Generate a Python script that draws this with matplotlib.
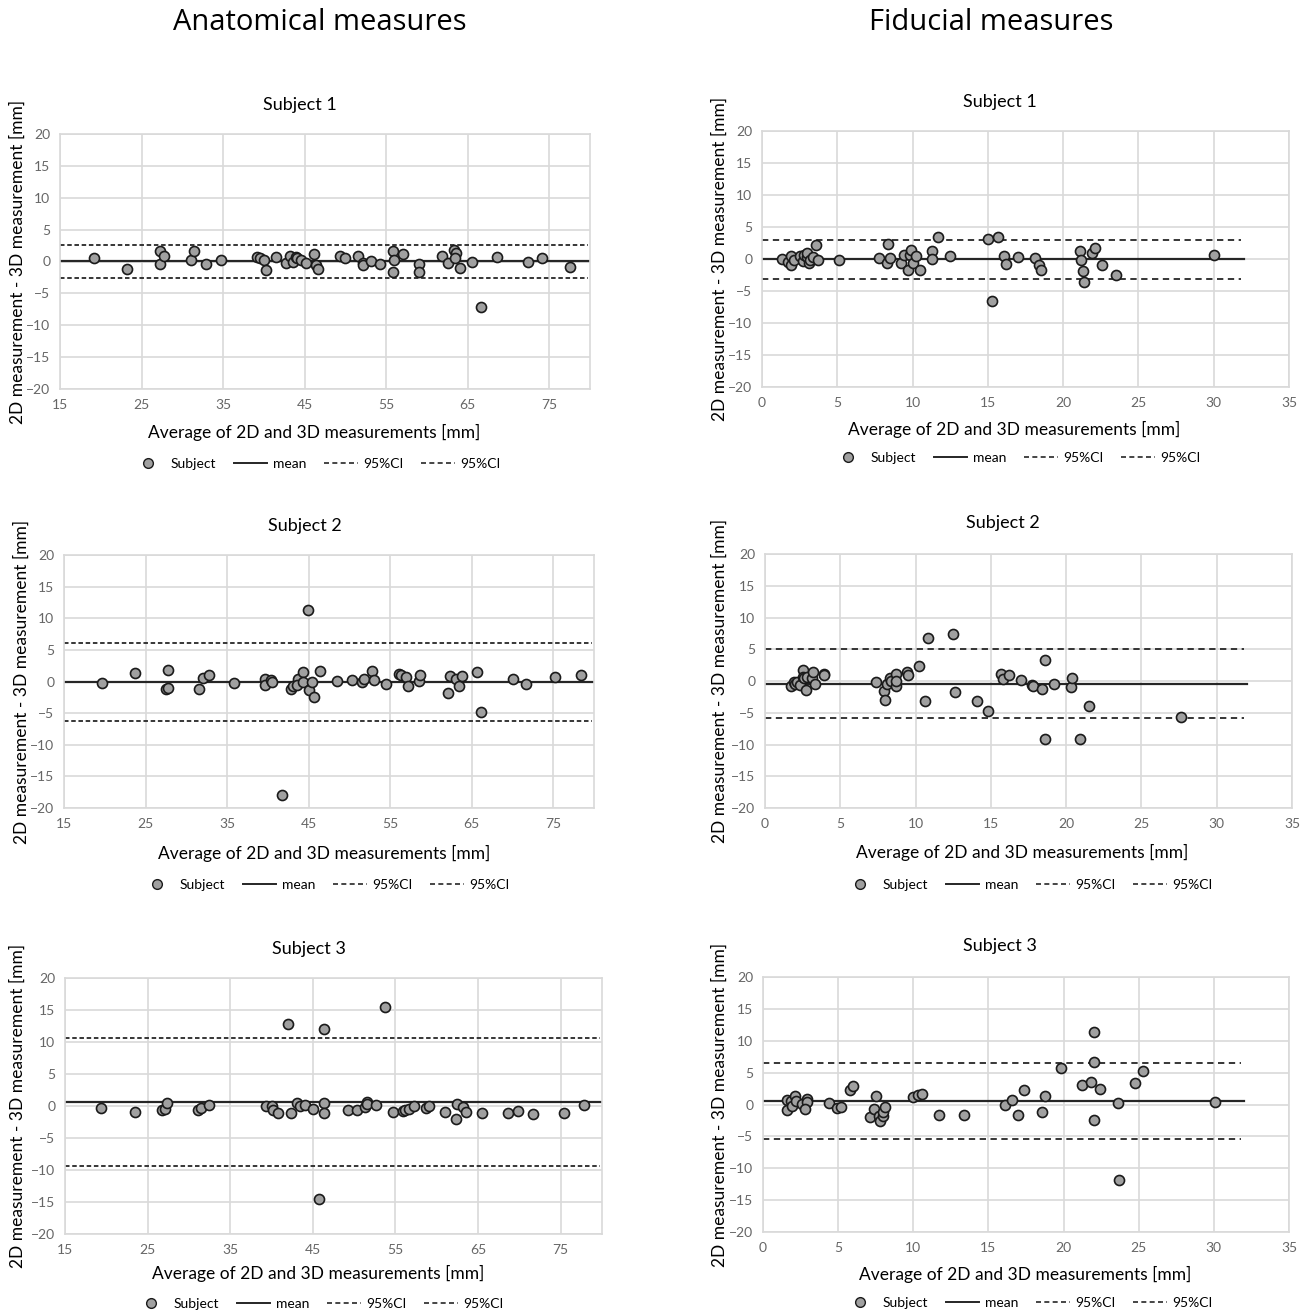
import numpy as np
import matplotlib
matplotlib.use('Agg')
import matplotlib.pyplot as plt
from matplotlib.lines import Line2D

plt.rcParams['font.family'] = ['Lato', 'DejaVu Sans']

# ---- Anatomical, subject 1
a1_x = [19.2, 23.2, 27.3, 27.3, 27.8, 31.1, 31.4, 32.9, 34.8, 39.2, 39.5, 40.0, 40.3, 41.5, 42.7,
        43.2, 43.6, 43.9, 44.1, 44.5, 45.2, 46.2, 46.4, 46.6, 49.4, 49.9, 51.6, 52.1, 52.2, 53.1,
        54.3, 55.9, 56.0, 55.9, 57.1, 59.0, 59.0, 61.8, 62.6, 63.3, 63.6, 63.5, 64.0, 65.5, 66.6,
        68.6, 72.4, 74.1, 77.6]
a1_y = [0.5, -1.15, 1.7, -0.4, 0.9, 0.2, 1.6, -0.4, 0.3, 0.7, 0.5, 0.3, -1.3, 0.7, -0.2,
        0.9, 0.0, 0.7, 0.5, 0.3, -0.3, 1.2, -0.5, -1.15, 0.9, 0.6, 0.9, -0.2, -0.5, 0.1,
        -0.4, 1.7, 0.3, -1.7, 1.2, -0.4, -1.7, 0.9, -0.2, 1.8, 1.4, 0.5, -0.95, -0.15, -7.2,
        0.7, -0.05, 0.5, -0.9]
a1_stats = (0.05, 2.65, -2.55)

# ---- Anatomical, subject 2
a2_x = [19.7, 23.7, 27.7, 27.5, 27.8, 31.6, 32.1, 32.8, 35.8, 39.6, 39.6, 40.4, 40.5, 42.8, 43.1,
        43.7, 43.6, 44.3, 44.3, 44.9, 45.1, 45.4, 45.7, 46.4, 41.7, 48.5, 50.3, 51.5, 51.8, 52.8,
        53.0, 54.5, 56.1, 56.3, 56.9, 57.2, 58.5, 58.7, 62.1, 62.3, 63.1, 63.4, 63.8, 65.6, 66.2,
        70.1, 71.6, 75.2, 78.4]
a2_y = [-0.25, 1.3, 1.8, -1.2, -0.95, -1.2, 0.6, 1.1, -0.25, 0.35, -0.55, 0.3, 0.0, -1.2, -0.7,
        0.4, -0.6, 1.5, -0.1, 11.3, -1.4, -0.1, -2.4, 1.6, -17.9, 0.1, 0.2, -0.15, 0.45, 1.7,
        0.3, -0.45, 1.2, 1.0, 0.75, -0.75, 0.15, 1.05, -1.75, 0.9, 0.45, -0.65, 0.85, 1.55, -4.9,
        0.45, -0.4, 0.65, 0.95]
a2_stats = (-0.05, 6.15, -6.2)

# ---- Anatomical, subject 3
a3_x = [19.3, 23.5, 26.7, 27.1, 27.4, 31.1, 31.5, 32.4, 39.3, 40.1, 40.2, 40.8, 42.3, 42.0, 43.1,
        43.5, 44.0, 45.0, 46.4, 46.3, 46.4, 45.8, 49.3, 50.4, 51.3, 51.6, 51.6, 52.6, 53.7, 54.7,
        55.9, 56.1, 56.6, 57.2, 58.7, 59.1, 61.0, 62.4, 62.3, 63.2, 63.5, 65.5, 68.6, 69.8, 71.7,
        75.4, 77.8]
a3_y = [-0.35, -0.9, -0.7, -0.45, 0.4, -0.65, -0.25, 0.1, 0.0, 0.0, -0.55, -1.1, -1.1, 12.8, 0.45,
        0.0, 0.1, -0.5, 0.4, -1.1, 12.1, -14.5, -0.65, -0.65, -0.1, 0.6, 0.3, 0.2, 15.5, -0.95,
        -0.8, -0.7, -0.5, 0.0, -0.25, 0.0, -0.95, 0.35, -2.05, -0.2, -1.0, -1.05, -1.05, -0.75, -1.3,
        -1.05, 0.1]
a3_stats = (0.55, 10.65, -9.4)

# ---- Fiducial, subject 1
f1_x = [1.3, 1.7, 1.9, 1.9, 2.1, 2.5, 2.7, 2.8, 3.0, 3.0, 3.1, 3.2, 3.4, 3.6, 3.7,
        5.1, 7.8, 8.3, 8.4, 8.5, 9.2, 9.4, 9.7, 9.8, 9.9, 10.0, 10.2, 10.5, 11.3, 11.3,
        11.7, 12.5, 15.0, 15.3, 15.7, 16.1, 16.2, 17.0, 18.1, 18.4, 18.5, 21.1, 21.2, 21.3, 21.4,
        21.9, 22.1, 22.6, 23.5, 30.0]
f1_y = [0.0, -0.4, 0.4, -1.0, -0.1, 0.5, -0.3, 0.6, 0.3, 0.9, -0.65, -0.1, 0.3, 2.2, -0.2,
        -0.1, 0.2, -0.7, 2.4, 0.2, -0.55, 0.55, -1.75, 0.55, 1.4, -0.65, 0.4, -1.75, 1.3, 0.0,
        3.5, 0.45, 3.05, -6.5, 3.5, 0.4, -0.85, 0.35, 0.1, -1.0, -1.75, 1.3, -0.1, -1.95, -3.6,
        1.0, 1.75, -0.95, -2.45, 0.55]
f1_stats = (-0.05, 3.0, -3.1)

# ---- Fiducial, subject 2
f2_x = [1.7, 1.9, 2.0, 2.1, 2.3, 2.5, 2.5, 2.6, 2.7, 2.8, 3.1, 3.2, 3.3, 3.9, 3.9,
        7.4, 7.9, 8.0, 8.1, 8.3, 8.4, 8.7, 8.7, 8.7, 9.4, 9.5, 10.2, 10.8, 10.6, 12.5,
        12.6, 14.1, 14.8, 15.7, 15.8, 16.2, 17.0, 17.7, 17.8, 18.6, 18.4, 18.6, 19.2, 20.3, 20.4,
        20.9, 21.5, 27.6]
f2_y = [-0.75, -0.1, -0.5, -0.1, -0.6, 1.75, 0.7, 0.55, -1.35, 0.6, 0.55, 1.45, -0.5, 1.1, 0.95,
        -0.1, -1.55, -3.05, -0.4, 0.45, 0.0, -0.75, 1.05, 0.0, 1.45, 1.0, 2.4, 6.8, -3.1, 7.4,
        -1.7, -3.1, -4.7, 1.05, 0.25, 0.95, 0.1, -0.65, -0.75, 3.25, -1.3, -9.2, -0.45, -1.0, 0.55,
        -9.1, -3.9, -5.7]
f2_stats = (-0.4, 5.0, -5.8)

# ---- Fiducial, subject 3
f3_x = [1.6, 1.6, 1.85, 1.95, 2.1, 2.2, 2.6, 2.9, 2.9, 2.8, 4.4, 4.9, 5.2, 5.8, 6.0,
        7.1, 7.4, 7.5, 7.7, 7.8, 7.97, 8.0, 8.1, 10.0, 10.3, 10.6, 11.7, 13.4, 16.1, 16.6,
        17.0, 17.4, 18.55, 18.75, 19.8, 21.2, 21.8, 22.0, 22.05, 22.05, 22.4, 23.6, 23.7, 24.75, 25.3,
        30.1]
f3_y = [0.7, -0.8, 0.5, -0.3, 1.4, 0.6, 0.1, 0.85, 0.35, -0.65, 0.25, -0.6, -0.45, 2.3, 2.95,
        -1.9, -0.75, 1.35, -1.75, -2.6, -1.85, -1.1, -0.4, 1.1, 1.5, 1.7, -1.6, -1.7, -0.1, 0.7,
        -1.7, 2.3, -1.1, 1.35, 5.75, 3.1, 3.5, 11.45, 6.7, -2.45, 2.4, 0.25, -11.9, 3.45, 5.2,
        0.35]
f3_stats = (0.6, 6.5, -5.35)

W, H = 1309, 1313
fig = plt.figure(figsize=(W / 100, H / 100), dpi=100)

def rect(l, r, t, b):
    return [l / W, 1 - b / H, (r - l) / W, (b - t) / H]

grid_c = '#d9d9d9'
tick_c = '#666666'

panels = [
    # x, y, stats, xlim, xticks, line end, axes px (l, r, t, b), title, title pos, xlabel pos, legend pos, ylabel x, dash
    (a1_x, a1_y, a1_stats, (15, 80), range(15, 80, 10), 80, (60, 590, 134, 389), 'Subject 1', (300, 105), (314, 432), (316, 464), 18, (0, (2.5, 1.5))),
    (a2_x, a2_y, a2_stats, (15, 80), range(15, 80, 10), 80, (64, 594, 555, 808), 'Subject 2', (305, 526), (324, 853), (325, 885), 22, (0, (2.5, 1.5))),
    (a3_x, a3_y, a3_stats, (15, 80), range(15, 80, 10), 80, (65, 602, 978, 1234), 'Subject 3', (309, 949), (318, 1273), (319, 1304), 18, (0, (2.5, 1.5))),
    (f1_x, f1_y, f1_stats, (0, 35), range(0, 36, 5), 32, (762, 1289, 131, 387), 'Subject 1', (1000, 102), (1014, 429), (1016, 458), 720, (0, (3.5, 2.5))),
    (f2_x, f2_y, f2_stats, (0, 35), range(0, 36, 5), 32, (765, 1292, 554, 808), 'Subject 2', (1003, 523), (1022, 852), (1028, 885), 720, (0, (3.5, 2.5))),
    (f3_x, f3_y, f3_stats, (0, 35), range(0, 36, 5), 32, (763, 1289, 977, 1232), 'Subject 3', (1000, 946), (1025, 1274), (1028, 1303), 720, (0, (3.5, 2.5))),
]

for (xs, ys, st, xlim, xt, xend, box, title, tpos, xlpos, lgpos, ylx, dash) in panels:
    l, r, t, b = box
    ax = fig.add_axes(rect(l, r, t, b))
    mean, hi, lo = st
    ax.plot([xlim[0], xend], [mean, mean], color='#262626', lw=1.6, zorder=2)
    ax.plot([xlim[0], xend - 0.2], [hi, hi], color='#262626', lw=1.3, ls=dash, zorder=2)
    ax.plot([xlim[0], xend - 0.2], [lo, lo], color='#262626', lw=1.3, ls=dash, zorder=2)
    ax.scatter(xs, ys, s=52, facecolor='#a0a0a0', edgecolor='#1a1a1a', linewidths=1.2, zorder=3)
    ax.set_xlim(*xlim)
    ax.set_ylim(-20, 20)
    ax.set_xticks(list(xt))
    ax.set_yticks(range(-20, 21, 5))
    ax.grid(True, color=grid_c, lw=1.2)
    ax.set_axisbelow(True)
    for s in ax.spines.values():
        s.set_color(grid_c)
        s.set_linewidth(1.2)
    ax.tick_params(length=0, labelsize=10, labelcolor=tick_c, pad=7)

    fig.text(tpos[0] / W, 1 - tpos[1] / H, title, ha='center', va='center', fontsize=13)
    fig.text(xlpos[0] / W, 1 - xlpos[1] / H, 'Average of 2D and 3D measurements [mm]',
             ha='center', va='center', fontsize=12.5)
    fig.text(ylx / W, 1 - ((t + b) / 2) / H, '2D measurement - 3D measurement [mm]',
             ha='center', va='center', rotation=90, fontsize=12.5)

    handles = [
        Line2D([], [], ls='none', marker='o', markersize=7, markerfacecolor='#a0a0a0', markeredgecolor='#1a1a1a'),
        Line2D([], [], color='#262626', lw=1.4),
        Line2D([], [], color='#262626', lw=1.2, ls=(0, (3, 2))),
        Line2D([], [], color='#262626', lw=1.2, ls=(0, (3, 2))),
    ]
    fig.legend(handles, ['Subject', 'mean', '95%CI', '95%CI'], loc='center',
               bbox_to_anchor=(lgpos[0] / W, 1 - lgpos[1] / H), ncol=4, frameon=False,
               fontsize=10, handlelength=2.4, columnspacing=1.3, handletextpad=0.4)

fig.text(320 / W, 1 - 22 / H, 'Anatomical measures', ha='center', va='center',
         fontsize=21, family=['Open Sans', 'DejaVu Sans'])
fig.text(991 / W, 1 - 22 / H, 'Fiducial measures', ha='center', va='center',
         fontsize=21, family=['Open Sans', 'DejaVu Sans'])

fig.savefig('out.png', dpi=100)
